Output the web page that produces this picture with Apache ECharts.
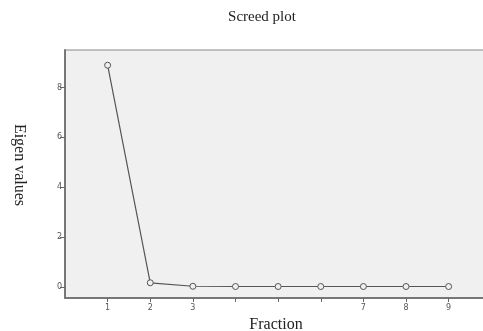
<!DOCTYPE html>
<html><head><meta charset="utf-8">
<script src="https://cdn.jsdelivr.net/npm/echarts@6/dist/echarts.min.js"></script>
<style>html,body{margin:0;padding:0;background:#fff}#c{width:483px;height:331px}</style>
</head><body><div id="c"></div>
<script>
const fractions = [1, 2, 3, 4, 5, 6, 7, 8, 9];
const eigenValues = [8.89, 0.17, 0.03, 0.02, 0.02, 0.02, 0.02, 0.02, 0.02];
const xTickValues = [1, 2, 3, 4, 5, 6, 7, 8, 9];
const xLabelValues = [1, 2, 3, 7, 8, 9];
const yTickValues = [0, 2, 4, 6, 8];

const chart = echarts.init(document.getElementById('c'));
chart.setOption({
  animation: false,
  title: {
    text: 'Screed plot', left: 257, top: 5, textAlign: 'center',
    textStyle: {fontFamily: 'Liberation Serif', fontSize: 15, fontWeight: 'normal', color: '#222'}
  },
  grid: {left: 65, top: 50, bottom: 33, right: -4, outerBoundsMode: 'none', containLabel: false,
    show: true, backgroundColor: '#f0f0f0', borderColor: '#888', borderWidth: 1},
  xAxis: {
    type: 'value', min: 0, max: 9.9,
    name: 'Fraction', nameLocation: 'middle', nameGap: 19,
    nameTextStyle: {fontFamily: 'Liberation Serif', fontSize: 16, color: '#222'},
    axisLine: {show: true, onZero: false, lineStyle: {color: '#777', width: 2}},
    axisTick: {show: true, length: 4, customValues: xTickValues, lineStyle: {color: '#666'}},
    axisLabel: {customValues: xLabelValues, fontSize: 8, color: '#555', margin: 6, fontFamily: 'DejaVu Sans'},
    splitLine: {show: false}
  },
  yAxis: {
    type: 'value', min: -0.44, max: 9.5,
    name: 'Eigen values', nameLocation: 'middle', nameRotate: -90, nameGap: 38,
    nameTextStyle: {fontFamily: 'Liberation Serif', fontSize: 16, color: '#222', padding: [0, 18, 0, 0]},
    axisLine: {show: true, onZero: false, lineStyle: {color: '#777', width: 2}},
    axisTick: {show: true, length: 5, customValues: yTickValues, lineStyle: {color: '#666'}},
    axisLabel: {customValues: yTickValues, fontSize: 8, color: '#555', margin: 3, fontFamily: 'DejaVu Sans'},
    splitLine: {show: false}
  },
  series: [{
    type: 'line',
    data: fractions.map((f, i) => [f, eigenValues[i]]),
    symbol: 'circle', symbolSize: 6,
    itemStyle: {color: '#f0f0f0', borderColor: '#555', borderWidth: 1},
    lineStyle: {color: '#555', width: 1.2}
  }]
});
</script></body></html>
